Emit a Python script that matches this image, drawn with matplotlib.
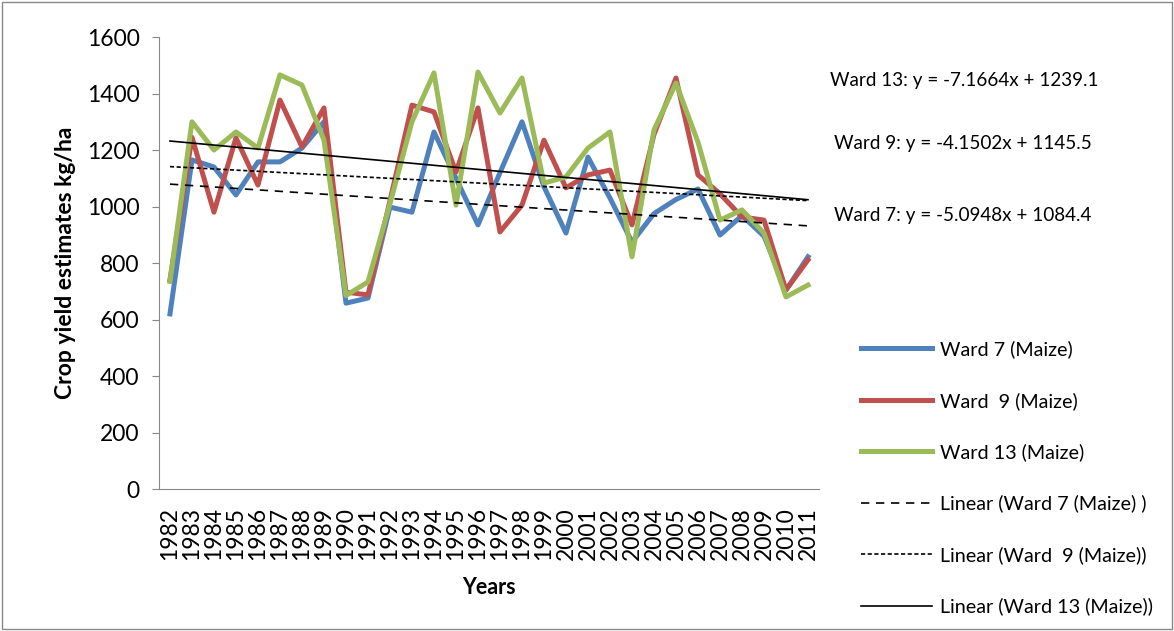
import numpy as np
import matplotlib.pyplot as plt
from matplotlib.lines import Line2D
from matplotlib.patches import Rectangle

plt.rcParams['font.family'] = ['Lato', 'DejaVu Sans']

years = list(range(1982, 2012))

ward7 = [620, 1165, 1140, 1041, 1158, 1158, 1207, 1300, 658, 676,
         998, 980, 1264, 1100, 935, 1120, 1300, 1070, 906, 1175,
         1030, 874, 975, 1025, 1062, 899, 968, 895, 704, 822]
ward9 = [740, 1245, 980, 1243, 1076, 1377, 1211, 1349, 697, 687,
         1020, 1359, 1335, 1122, 1349, 910, 1005, 1235, 1066, 1112,
         1129, 935, 1255, 1455, 1112, 1045, 963, 952, 705, 811]
ward13 = [735, 1300, 1200, 1264, 1207, 1466, 1430, 1235, 685, 733,
          1010, 1300, 1473, 1005, 1476, 1331, 1455, 1083, 1105, 1207,
          1264, 822, 1271, 1437, 1228, 952, 988, 906, 680, 722]

# trend line coefficients (x = 1..30)
slopes = {'7': -5.0948, '9': -4.1502, '13': -7.1664}
intercepts = {'7': 1084.4, '9': 1145.5, '13': 1239.1}

blue = '#4F81BD'
red = '#C0504D'
green = '#9BBB59'

fig = plt.figure(figsize=(11.74, 6.31), dpi=100)
ax = fig.add_axes([0.1354, 0.225, 0.5622, 0.7163])

x = np.arange(len(years))
ax.plot(x, ward7, color=blue, lw=3.6, solid_joinstyle='round')
ax.plot(x, ward9, color=red, lw=3.6, solid_joinstyle='round')
ax.plot(x, ward13, color=green, lw=3.6, solid_joinstyle='round')

xn = x + 1
ax.plot(x, slopes['7'] * xn + intercepts['7'], color='black', lw=1.2, ls=(0, (5, 4)))
ax.plot(x, slopes['9'] * xn + intercepts['9'], color='black', lw=1.2, ls=(0, (2.5, 1.5)))
ax.plot(x, slopes['13'] * xn + intercepts['13'], color='black', lw=1.2)

ax.set_xlim(-0.5, len(years) - 0.5)
ax.set_ylim(0, 1600)
ax.set_yticks(range(0, 1601, 200))
ax.set_xticks(x)
ax.set_xticklabels([str(y) for y in years], rotation=90, fontsize=16.5)
ax.tick_params(axis='y', labelsize=16.5, length=5, color='#888888', pad=9)
ax.tick_params(axis='x', length=0, pad=13)

for side in ['top', 'right']:
    ax.spines[side].set_visible(False)
for side in ['left', 'bottom']:
    ax.spines[side].set_color('#888888')

ax.set_ylabel('Crop yield estimates kg/ha', fontsize=16.5, fontweight='bold', labelpad=8)
ax.set_xlabel('Years', fontsize=15.5, fontweight='bold', labelpad=12)

# equations of the trend lines
fig.text(0.707, 0.873, 'Ward 13: y = -7.1664x + 1239.1', fontsize=13.6, va='center')
fig.text(0.710, 0.773, 'Ward 9: y = -4.1502x + 1145.5', fontsize=13.6, va='center')
fig.text(0.710, 0.659, 'Ward 7: y = -5.0948x + 1084.4', fontsize=13.6, va='center')

handles = [
    Line2D([], [], color=blue, lw=3.6),
    Line2D([], [], color=red, lw=3.6),
    Line2D([], [], color=green, lw=3.6),
    Line2D([], [], color='black', lw=1.2, ls=(0, (5, 4))),
    Line2D([], [], color='black', lw=1.2, ls=(0, (2.5, 1.5))),
    Line2D([], [], color='black', lw=1.2),
]
labels = ['Ward 7 (Maize)', 'Ward  9 (Maize)', 'Ward 13 (Maize)',
          'Linear (Ward 7 (Maize) )', 'Linear (Ward  9 (Maize))',
          'Linear (Ward 13 (Maize))']
fig.legend(handles, labels, loc='upper left', bbox_to_anchor=(0.727, 0.473),
           frameon=False, fontsize=14.2, handlelength=3.6, handletextpad=0.4,
           labelspacing=1.7, borderaxespad=0)

fig.patches.append(Rectangle((0.002, 0.003), 0.996, 0.994, transform=fig.transFigure,
                             fill=False, edgecolor='#888888', lw=1))

fig.savefig('out.png', dpi=100)
